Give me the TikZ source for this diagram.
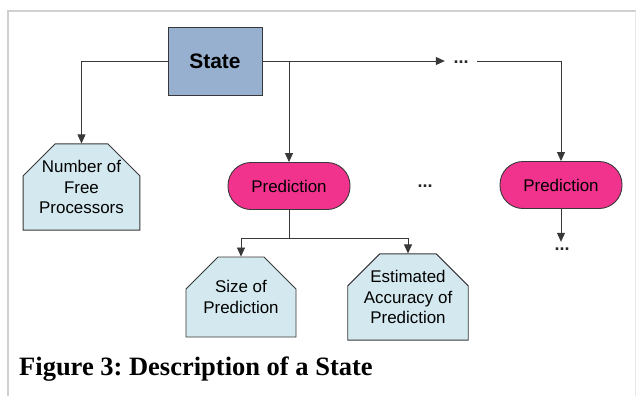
\documentclass[tikz,border=0pt]{standalone}
\usepackage{fontspec}
\setmainfont{Liberation Serif}
\setsansfont{Liberation Sans}
\usetikzlibrary{arrows.meta,shapes.misc}
\definecolor{stateblue}{HTML}{98B0D0}
\definecolor{boxblue}{HTML}{D3E9EF}
\definecolor{predpink}{HTML}{F2338E}
\definecolor{framegray}{HTML}{D0D0D0}
\definecolor{linegray}{HTML}{383838}
\tikzset{
  base/.style={font=\sffamily\fontsize{17}{21}\selectfont, align=center, inner sep=0pt, text=black},
  statebox/.style={base, draw=linegray, line width=0.9bp, fill=stateblue, minimum width=94bp, minimum height=68bp, font=\sffamily\bfseries\fontsize{21}{24}\selectfont},
  infobox/.style={base, draw=linegray, line width=0.9bp, fill=boxblue, chamfered rectangle, chamfered rectangle corners={north west,north east}, chamfered rectangle xsep=16bp, chamfered rectangle ysep=16bp, minimum height=80bp},
  predbox/.style={base, draw=linegray, line width=0.9bp, fill=predpink, rounded corners=23bp, minimum width=122bp, minimum height=47bp},
  dotstext/.style={base, font=\sffamily\bfseries\fontsize{18}{20}\selectfont, text=black!85},
  conn/.style={draw=linegray, line width=0.8bp},
  arr/.style={conn, -{Triangle[length=9bp,width=8bp]}},
}
\begin{document}
\begin{tikzpicture}[x=1bp,y=-1bp]
\useasboundingbox (0,0) rectangle (636,396);
\fill[white] (0,0) rectangle (636,396);
\draw[framegray, line width=2bp] (8,396) -- (8,11) -- (636,11);
\draw[framegray!50, line width=1bp] (635,11) -- (635,396);

\node[statebox] (state) at (215,61) {State};
\node[infobox, minimum width=113bp] (num) at (81.5,187) {Number of\\Free\\Processors};
\node[predbox] (pred1) at (289,186) {Prediction};
\node[dotstext] (dots1) at (425,186) {...};
\node[predbox] (pred2) at (561,185) {Prediction};
\node[dotstext, minimum width=32bp] (dotsT) at (461,62) {...};
\node[dotstext, minimum height=14bp] (dotsB) at (562,249) {...};
\node[infobox, minimum width=110bp] (size) at (241,297) {Size of\\Prediction};
\node[infobox, minimum width=112bp] (est) at (408,297) {Estimated\\Accuracy of\\Prediction};

\coordinate (br) at (289,238);

\draw[arr] (state.west) -| (num.north);
\draw[arr] (state.east) -- (dotsT.west |- state.east);
\draw[arr] (state.east -| pred1.north) -- (pred1.north);
\draw[arr] (dotsT.east |- state.east) -| (pred2.north);
\draw[arr] (pred2.south) -- (dotsB.north -| pred2.south);
\draw[conn] (pred1.south) -- (br);
\draw[arr] (br) -| (size.north);
\draw[arr] (br) -| (est.north);

\node[anchor=west, inner sep=0pt, font=\rmfamily\bfseries\fontsize{26.6}{28}\selectfont] (caption) at (19,369) {\frenchspacing Figure 3: Description of a State};
\end{tikzpicture}
\end{document}
